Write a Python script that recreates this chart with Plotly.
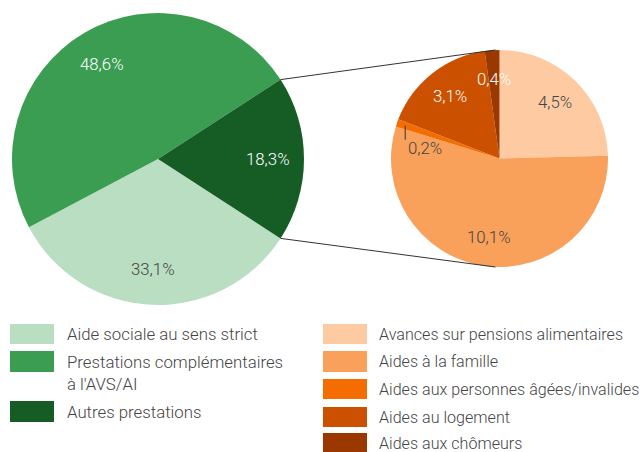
import math
import plotly.graph_objects as go

# ---------------- data ----------------
main_labels = ["Aide sociale au sens strict", "Prestations complémentaires à l'AVS/AI", "Autres prestations"]
main_legend = ["Aide sociale au sens strict", "Prestations complémentaires<br>à l'AVS/AI", "Autres prestations"]
main_values = [33.1, 48.6, 18.3]
main_colors = ["#badec2", "#3a9d52", "#155d25"]
main_textcolors = ["#444444", "#ffffff", "#ffffff"]

sub_labels = ["Avances sur pensions alimentaires", "Aides à la famille",
              "Aides aux personnes âgées/invalides", "Aides au logement", "Aides aux chômeurs"]
sub_values = [4.5, 10.1, 0.2, 3.1, 0.4]
sub_colors = ["#fdcaa1", "#f9a05b", "#f56d00", "#cb5100", "#9a3800"]
sub_textcolors = ["#444444", "#444444", "#444444", "#ffffff", "#ffffff"]

W, H = 644, 452
FONT = "Roboto Light, Roboto"
FS = 16.8


def px(x):
    return x / W


def py(y):
    return 1 - y / H


def fmt(v):
    return ("%.1f%%" % v).replace(".", ",")


# pie geometry (pixels)
L_CX, L_CY, L_R = 158, 159, 146
R_CX, R_CY, R_R = 499.5, 158.5, 108.5

# the exploded slice ("Autres prestations") is centred on 3 o'clock
half_angle = 0.5 * main_values[2] / sum(main_values) * 360
rotation_main = 90 + half_angle

fig = go.Figure()

fig.add_trace(go.Pie(
    labels=main_labels, values=main_values, sort=False, direction="clockwise",
    rotation=rotation_main,
    marker=dict(colors=main_colors, line=dict(width=0)),
    textinfo="none",
    domain=dict(x=[px(L_CX - L_R), px(L_CX + L_R)], y=[py(L_CY + L_R), py(L_CY - L_R)]),
    showlegend=False, hoverinfo="label+value",
))

fig.add_trace(go.Pie(
    labels=sub_labels, values=sub_values, sort=False, direction="clockwise",
    rotation=0,
    marker=dict(colors=sub_colors, line=dict(width=0)),
    textinfo="none",
    domain=dict(x=[px(R_CX - R_R), px(R_CX + R_R)], y=[py(R_CY + R_R), py(R_CY - R_R)]),
    showlegend=False, hoverinfo="label+value",
))

shapes = []
annotations = []


def slice_labels(values, colors, cx, cy, r, rot_deg, frac, skip=()):
    total = sum(values)
    cum = 0
    for i, (v, c) in enumerate(zip(values, colors)):
        mid = math.radians(rot_deg + (cum + v / 2) / total * 360)
        cum += v
        if i in skip:
            continue
        x = cx + frac * r * math.sin(mid)
        y = cy - frac * r * math.cos(mid)
        annotations.append(dict(xref="paper", yref="paper", x=px(x), y=py(y),
                                text=fmt(v), showarrow=False,
                                xanchor="center", yanchor="middle",
                                font=dict(family=FONT, size=FS, color=c, weight=300)))


slice_labels(main_values, main_textcolors, L_CX, L_CY, L_R, rotation_main, 0.755)
slice_labels(sub_values, sub_textcolors, R_CX, R_CY, R_R, 0, 0.73, skip=(2,))

# connector lines from the exploded slice edges to top / bottom of the detail pie
a = math.radians(half_angle)
x0 = L_CX + L_R * math.cos(a)
for sgn in (1, -1):
    y0 = L_CY - sgn * L_R * math.sin(a)
    shapes.append(dict(type="line", xref="paper", yref="paper",
                       x0=px(x0), y0=py(y0), x1=px(R_CX - 4), y1=py(R_CY - sgn * R_R),
                       line=dict(color="#333333", width=1)))

# small label for the tiny slice (0,2%) with a short leader line
cum = sum(sub_values[:2])
mid = (cum + sub_values[2] / 2) / sum(sub_values) * 2 * math.pi
lx = R_CX + R_R * 0.92 * math.sin(mid)
ly = R_CY - R_R * 0.92 * math.cos(mid)
shapes.append(dict(type="line", xref="paper", yref="paper",
                   x0=px(lx), y0=py(ly), x1=px(lx), y1=py(ly + 14),
                   line=dict(color="#333333", width=1)))
annotations.append(dict(xref="paper", yref="paper", x=px(lx + 1), y=py(ly + 22),
                        text=fmt(sub_values[2]),
                        showarrow=False, xanchor="left", yanchor="middle",
                        font=dict(family=FONT, size=FS, color="#444444", weight=300)))


# legend (manual, two columns)
def legend_column(labels, colors, sx, tx, rows, size):
    for lab, col, (top, bottom) in zip(labels, colors, rows):
        shapes.append(dict(type="rect", xref="paper", yref="paper",
                           x0=px(sx), x1=px(sx + 44), y0=py(bottom), y1=py(top),
                           fillcolor=col, line=dict(width=0)))
        nlines = lab.count("<br>") + 1
        cy = (top + bottom) / 2 + (nlines - 1) * 11.2
        annotations.append(dict(xref="paper", yref="paper", x=px(tx), y=py(cy),
                                text=lab, showarrow=False, xanchor="left", yanchor="middle",
                                align="left",
                                font=dict(family=FONT, size=size, color="#444444", weight=300)))


legend_column(main_legend, main_colors, 10, 65,
              [(324, 344), (351, 372), (401, 422)], FS)
legend_column(sub_labels, sub_colors, 323, 377,
              [(324, 344), (351, 372), (379, 399), (407, 427), (433, 453)], 16.1)

fig.update_layout(
    width=W, height=H, margin=dict(l=0, r=0, t=0, b=0),
    paper_bgcolor="white", plot_bgcolor="white",
    separators=", ",
    shapes=shapes, annotations=annotations,
    font=dict(family=FONT, color="#444444"),
)

fig.write_html("out.html")
